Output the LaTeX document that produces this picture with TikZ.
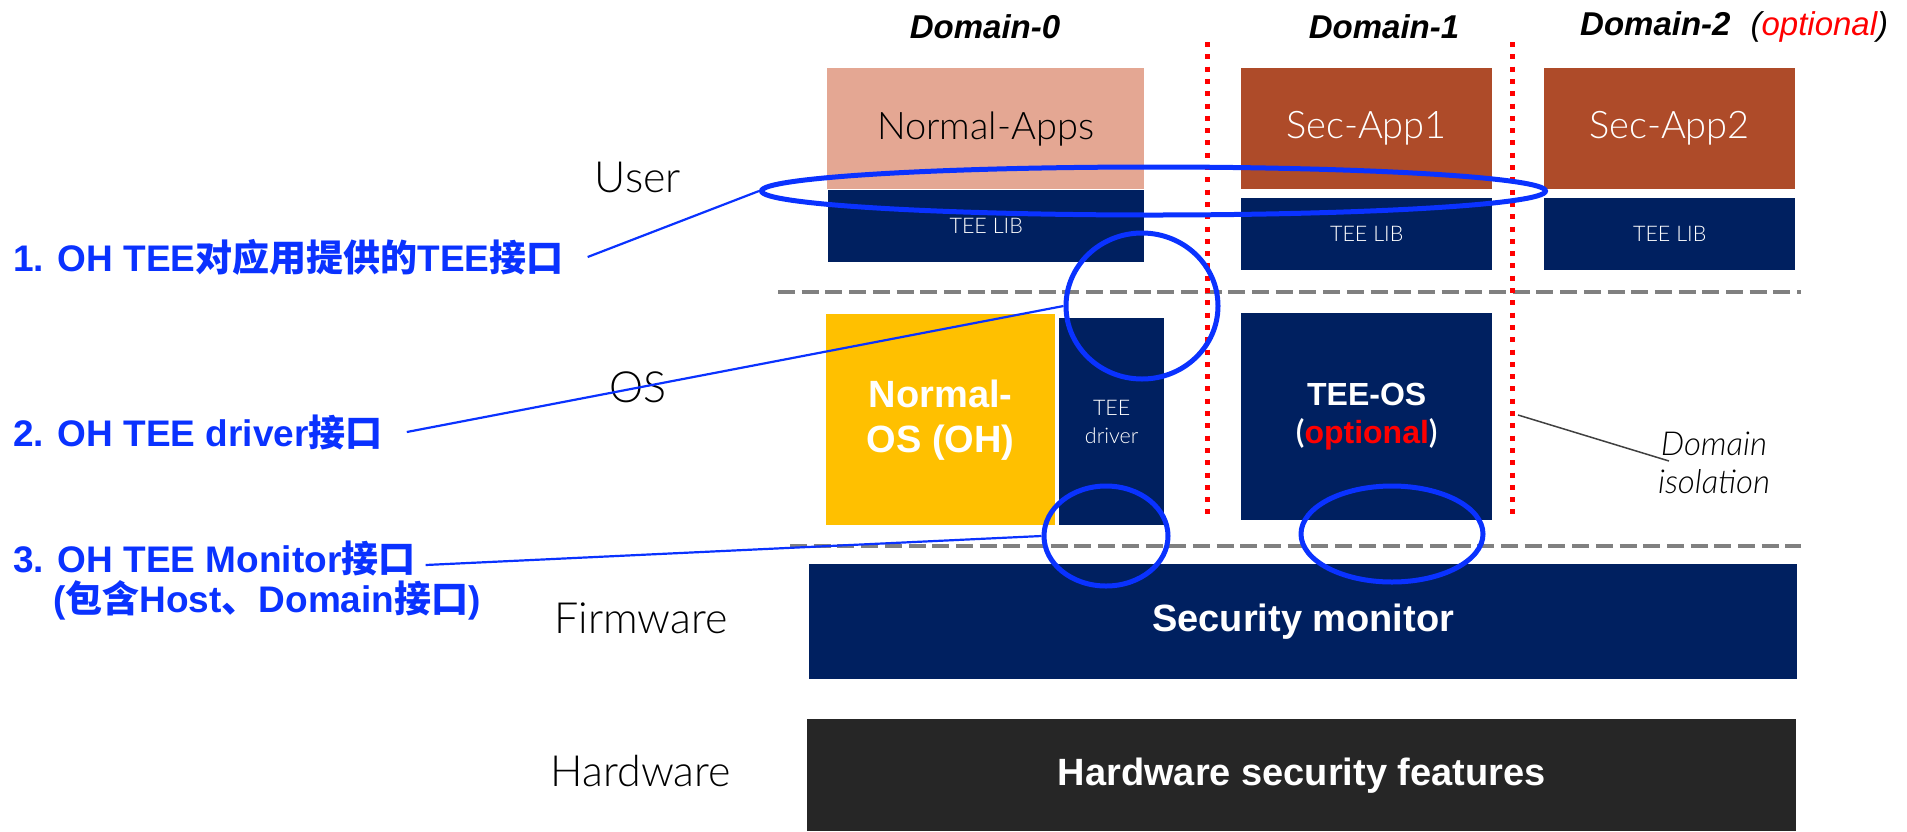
\documentclass[tikz,border=0pt]{standalone}
\usepackage{fontspec}
\setmainfont{Liberation Sans}
\newfontfamily\thinfont{Lato Light}
\newfontfamily\cjkfont{Noto Sans CJK SC}
\usepackage{xcolor}
\usetikzlibrary{shapes.geometric}
\definecolor{navy}{HTML}{002060}
\definecolor{appsalmon}{HTML}{E4A793}
\definecolor{secbrown}{HTML}{AE4B29}
\definecolor{osyellow}{HTML}{FFC000}
\definecolor{hwgray}{HTML}{262626}
\definecolor{markblue}{HTML}{0A32FF}
\definecolor{layergray}{HTML}{808080}
\newcommand{\zhtext}[1]{{\cjkfont #1}}
\newcommand{\fsz}[2]{\fontsize{#1pt}{#2pt}\selectfont}

\tikzset{
	block/.style={anchor=north west, inner sep=0pt, align=center, text=white},
	layer/.style={inner sep=0pt, font=\thinfont\fsz{43}{48}},
	domhead/.style={inner sep=0pt, font=\bfseries\itshape\fsz{33}{38}},
	note/.style={anchor=west, inner sep=0pt, text=markblue, font=\bfseries\fsz{37}{42}},
	ring/.style={ellipse, draw=markblue, line width=5pt, inner sep=0pt},
	callout/.style={draw=markblue, line width=2.2pt},
	layerline/.style={draw=layergray, line width=4.7pt, dash pattern=on 17pt off 6.7pt},
	domainline/.style={draw=red, line width=4.6pt, dash pattern=on 5pt off 7.3pt}
}

\begin{document}
\begin{tikzpicture}[x=1pt, y=-1pt]
	\useasboundingbox (0,0) rectangle (1907,831);

	\node[domhead] (d0) at (985,27) {Domain-0};
	\node[domhead] (d1) at (1384,27) {Domain-1};
	\node[domhead, anchor=west] (d2) at (1580,27) {Domain-2\hspace{20pt}{\mdseries(\textcolor{red}{optional})}};

	\node[layer] (user) at (638,177) {User};
	\node[layer] (os) at (638,387) {OS};
	\node[layer] (fw) at (641,618) {Firmware};
	\node[layer] (hw) at (641,771) {Hardware};

	\node[block, fill=appsalmon, text=black, minimum width=317pt, minimum height=121pt, font=\thinfont\fsz{38}{44}] (napps) at (827,68) {Normal-Apps};
	\node[block, fill=navy, minimum width=316pt, minimum height=72pt, font=\thinfont\fsz{21.5}{26}] (lib0) at (828,190) {TEE LIB};
	\node[block, fill=secbrown, minimum width=251pt, minimum height=121pt, font=\thinfont\fsz{38}{44}] (sec1) at (1241,68) {Sec-App1};
	\node[block, fill=navy, minimum width=251pt, minimum height=72pt, font=\thinfont\fsz{21.5}{26}] (lib1) at (1241,198) {TEE LIB};
	\node[block, fill=secbrown, minimum width=251pt, minimum height=121pt, font=\thinfont\fsz{38}{44}] (sec2) at (1544,68) {Sec-App2};
	\node[block, fill=navy, minimum width=251pt, minimum height=72pt, font=\thinfont\fsz{21.5}{26}] (lib2) at (1544,198) {TEE LIB};

	\node[block, fill=osyellow, minimum width=229pt, minimum height=211pt, font=\bfseries\fsz{38}{45}] (nos) at (826,314) {Normal-\\OS (OH)};
	\node[block, fill=navy, minimum width=105pt, minimum height=207pt, font=\thinfont\fsz{21.5}{28}] (drv) at (1059,318) {TEE\\driver};
	\node[block, fill=navy, minimum width=251pt, minimum height=207pt, font=\bfseries\fsz{32}{37.5}] (teeos) at (1241,313) {TEE-OS\\{\thinfont(}\textcolor{red}{optional}{\thinfont)}};

	\node[block, fill=navy, minimum width=988pt, minimum height=115pt, font=\bfseries\fsz{38}{44}] (secmon) at (809,564) {Security monitor};
	\node[block, fill=hwgray, minimum width=989pt, minimum height=112pt, font=\bfseries\fsz{38}{44}] (hwsec) at (807,719) {Hardware security features};

	\draw[layerline] (778,292) -- (1801,292);
	\draw[layerline] (790,546) -- (1801,546);
	\draw[domainline] (1207.5,42) -- (1207.5,514);
	\draw[domainline] (1512.5,42) -- (1512.5,514);

	\node[inner sep=0pt, align=center, font=\thinfont\itshape\fsz{33}{38}] (iso) at (1714,463) {Domain\\isolation};
	\coordinate (isoA) at (1518,415);
	\draw[draw=black!75, line width=1.5pt] (isoA) -- ([xshift=-45pt,yshift=2pt]iso.center);

	\node[ring, minimum width=784pt, minimum height=48pt] (e1) at (1153.5,191) {};
	\node[ring, minimum width=152pt, minimum height=146pt] (e2) at (1142,306) {};
	\node[ring, minimum width=124pt, minimum height=100pt] (e3) at (1106,536) {};
	\node[ring, minimum width=182pt, minimum height=96pt] (e4) at (1392,534) {};

	\node[note] (n1) at (13,257) {1. OH TEE\zhtext{对应用提供的}TEE\zhtext{接口}};
	\node[note] (n2) at (13,432) {2. OH TEE driver\zhtext{接口}};
	\node[note] (n3) at (13,558) {3. OH TEE Monitor\zhtext{接口}};
	\node[note] (n3b) at (53,600) {(\zhtext{包含}Host\zhtext{、}Domain\zhtext{接口})};

	\draw[callout] ([xshift=24pt]n1.east) -- (e1.west);
	\draw[callout] ([xshift=24pt]n2.east) -- (e2.west);
	\draw[callout] ([xshift=10pt,yshift=-7pt]n3.east) -- (e3.west);
\end{tikzpicture}
\end{document}
